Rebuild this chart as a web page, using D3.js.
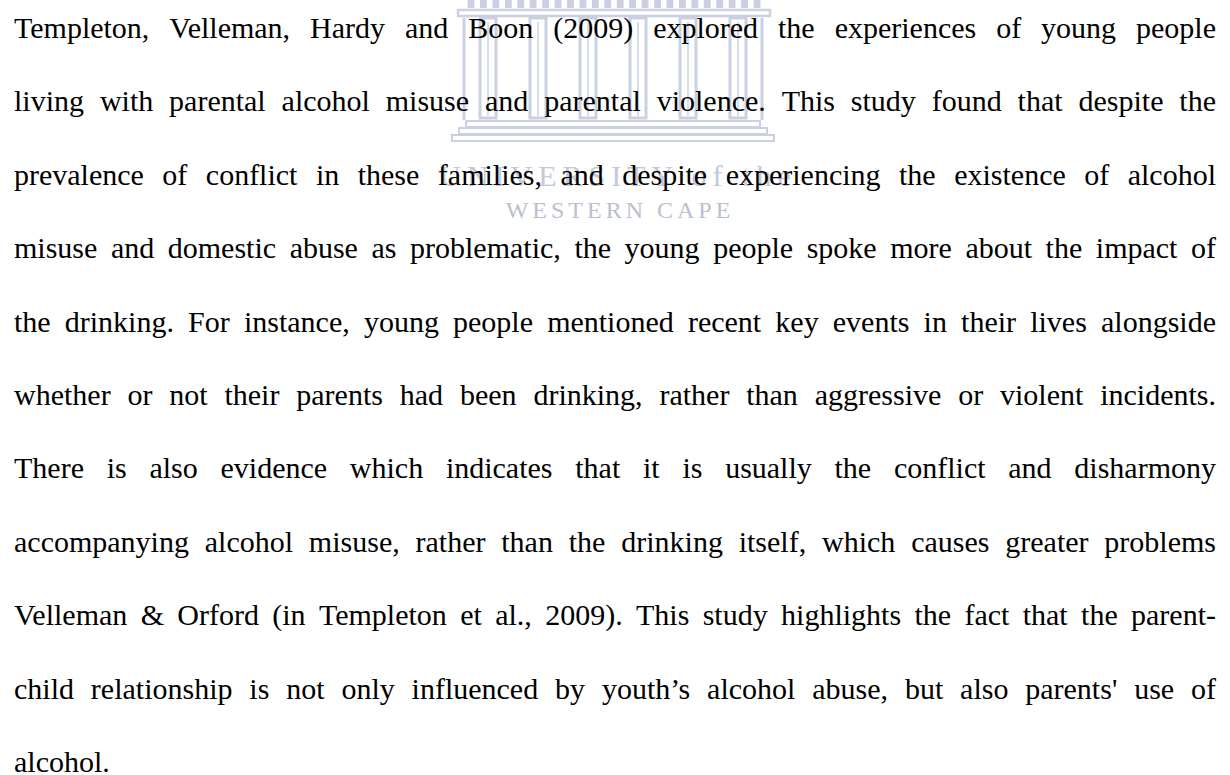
<!DOCTYPE html>
<html>
<head>
  <meta charset="utf-8">
  <script src="https://d3js.org/d3.v7.min.js"></script>
  <style>
    html, body { margin: 0; padding: 0; background: #fff; }
    svg { display: block; }
  </style>
</head>
<body>
  <script>

    var outerWidth = 1230,
      outerHeight = 775;

    // the paragraph, one entry per printed line
    var lines = [
      "Templeton, Velleman, Hardy and Boon (2009) explored the experiences of young people",
      "living with parental alcohol misuse and parental violence. This study found that despite the",
      "prevalence of conflict in these families, and despite experiencing the existence of alcohol",
      "misuse and domestic abuse as problematic, the young people spoke more about the impact of",
      "the drinking. For instance, young people mentioned recent key events in their lives alongside",
      "whether or not their parents had been drinking, rather than aggressive or violent incidents.",
      "There is also evidence which indicates that it is usually the conflict and disharmony",
      "accompanying alcohol misuse, rather than the drinking itself, which causes greater problems",
      "Velleman & Orford (in Templeton et al., 2009). This study highlights the fact that the parent-",
      "child relationship is not only influenced by youth\u2019s alcohol abuse, but also parents' use of",
      "alcohol."
    ];

    // watermark bits
    var columns = ["c1", "c2", "c3", "c4", "c5", "c6"];
    var steps = ["s1", "s2", "s3"];
    var frieze = d3.range(24);
    var crestTop = "UNIVERSITY of the";
    var crestBottom = "WESTERN CAPE";

    var margin = { top: 38, left: 14, right: 14, bottom: 3 };
    var width = outerWidth - margin.left - margin.right;

    var svg = d3.select("body")
      .append("svg")
      .attr("width", outerWidth)
      .attr("height", outerHeight);

    // ---- watermark (drawn first so the text sits on top) ----
    var wm = svg.append("g").attr("class", "watermark");
    var wmColor = "#c9d0e2";

    var colScale = d3.scalePoint()
      .domain(columns)
      .range([488, 738]);

    var friezeScale = d3.scaleBand()
      .domain(frieze)
      .range([462, 766])
      .padding(0.45);

    var stepScale = d3.scaleBand()
      .domain(steps)
      .range([120, 142])
      .padding(0.15);

    // frieze of little blocks along the top
    wm.selectAll("rect.frieze")
      .data(frieze)
      .enter().append("rect")
      .attr("class", "frieze")
      .attr("x", function(d) { return friezeScale(d); })
      .attr("y", 0)
      .attr("width", friezeScale.bandwidth())
      .attr("height", 8)
      .attr("fill", wmColor);

    // entablature
    wm.append("rect")
      .attr("x", 458).attr("y", 10)
      .attr("width", 312).attr("height", 6)
      .attr("fill", "none")
      .attr("stroke", wmColor)
      .attr("stroke-width", 2.5);

    // outer walls
    [464, 762].forEach(function(x) {
      wm.append("line")
        .attr("x1", x).attr("x2", x)
        .attr("y1", 18).attr("y2", 120)
        .attr("stroke", wmColor)
        .attr("stroke-width", 3);
    });

    // columns, drawn as double outlines
    wm.selectAll("rect.column")
      .data(columns)
      .enter().append("rect")
      .attr("class", "column")
      .attr("x", function(d) { return colScale(d) - 8; })
      .attr("y", 18)
      .attr("width", 16)
      .attr("height", 100)
      .attr("fill", "none")
      .attr("stroke", wmColor)
      .attr("stroke-width", 3);

    wm.selectAll("line.column-mid")
      .data(columns)
      .enter().append("line")
      .attr("class", "column-mid")
      .attr("x1", function(d) { return colScale(d); })
      .attr("x2", function(d) { return colScale(d); })
      .attr("y1", 22).attr("y2", 116)
      .attr("stroke", wmColor)
      .attr("stroke-width", 1.5);

    // steps
    wm.selectAll("rect.step")
      .data(steps)
      .enter().append("rect")
      .attr("class", "step")
      .attr("x", function(d, i) { return 466 - i * 7; })
      .attr("y", function(d) { return stepScale(d); })
      .attr("width", function(d, i) { return 294 + i * 14; })
      .attr("height", stepScale.bandwidth())
      .attr("fill", "none")
      .attr("stroke", wmColor)
      .attr("stroke-width", 2);

    wm.append("text")
      .attr("x", 618).attr("y", 186)
      .attr("text-anchor", "middle")
      .style("font-family", "'Liberation Serif', serif")
      .style("font-size", "30px")
      .style("letter-spacing", "6px")
      .attr("fill", "#c3c9d8")
      .text(crestTop);

    wm.append("text")
      .attr("x", 620).attr("y", 218)
      .attr("text-anchor", "middle")
      .style("font-family", "'Liberation Serif', serif")
      .style("font-size", "24px")
      .style("letter-spacing", "4px")
      .attr("fill", "#b9c0d0")
      .text(crestBottom);

    // ---- justified paragraph ----
    var yScale = d3.scaleLinear()
      .domain([0, lines.length - 1])
      .range([margin.top, outerHeight - margin.bottom]);

    var para = svg.append("g")
      .attr("class", "paragraph")
      .style("font-family", "'Liberation Serif', 'Times New Roman', serif")
      .style("font-size", "30px")
      .attr("fill", "#000");

    lines.forEach(function(line, i) {
      var words = line.split(" ");
      var row = para.append("g");

      var texts = row.selectAll("text")
        .data(words)
        .enter().append("text")
        .attr("y", yScale(i))
        .text(function(d) { return d; });

      var widths = [];
      texts.each(function() { widths.push(this.getComputedTextLength()); });
      var total = d3.sum(widths);

      // last line is left aligned, the rest are stretched to the margin
      var gap = (i === lines.length - 1 || words.length < 2)
        ? 7.5
        : (width - total) / (words.length - 1);

      var x = margin.left;
      texts.attr("x", function(d, j) {
        var pos = x;
        x += widths[j] + gap;
        return pos;
      });
    });

  </script>
</body>
</html>
